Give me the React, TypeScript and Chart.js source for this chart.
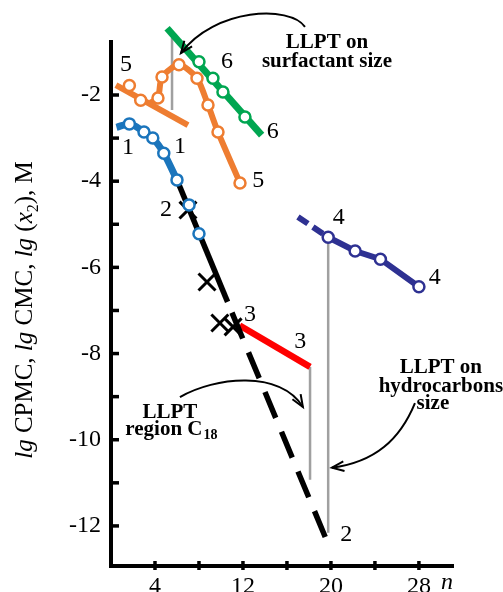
import { useEffect, useRef } from "react";
import { Chart, registerables } from "chart.js";

Chart.register(...registerables);

const SERIF = "'Liberation Serif', 'Times New Roman', serif";

// ---- data (n, lg value) ----
const blueLineN = [0.5, 1.67, 3.0, 3.8, 4.8, 6.0];
const blueLineY = [-2.75, -2.67, -2.86, -3.0, -3.35, -3.97];
const blueMarkN = [1.67, 3.0, 3.8, 4.8, 6.0, 7.1, 8.0];
const blueMarkY = [-2.67, -2.86, -3.0, -3.35, -3.97, -4.55, -5.22];

const blackSolidN = [6.0, 10.6];
const blackSolidY = [-3.97, -6.8];
const blackDashN = [11.0, 19.6];
const blackDashY = [-7.05, -12.33];
const crossN = [7.0, 8.73, 9.9, 11.1];
const crossY = [-4.67, -6.34, -7.29, -7.38];

const redN = [11.7, 18.1];
const redY = [-7.35, -8.31];

const navyDashN = [17.0, 19.75];
const navyDashY = [-4.83, -5.3];
const navyN = [19.75, 22.2, 24.5, 28.0];
const navyY = [-5.3, -5.62, -5.81, -6.45];

const orangeStraightN = [0.45, 7.0];
const orangeStraightY = [-1.77, -2.7];
const orangeStraightMarkN = [1.67, 2.7];
const orangeStraightMarkY = [-1.78, -2.12];
const orangeCurveN = [3.6, 4.27, 4.64, 6.18, 7.82, 8.82, 9.73, 11.73];
const orangeCurveY = [-2.18, -2.07, -1.58, -1.3, -1.61, -2.23, -2.86, -4.04];
const orangeMarkN = [4.27, 4.64, 6.18, 7.82, 8.82, 9.73, 11.73];
const orangeMarkY = [-2.07, -1.58, -1.3, -1.61, -2.23, -2.86, -4.04];

const greenN = [5.1, 13.7];
const greenY = [-0.45, -2.93];
const greenMarkN = [8.0, 9.27, 10.18, 12.18];
const greenMarkY = [-1.23, -1.61, -1.93, -2.51];

const gray1N = [5.55, 5.55];
const gray1Y = [-0.68, -2.35];
const gray2N = [18.1, 18.1];
const gray2Y = [-8.31, -10.93];
const gray3N = [19.75, 19.75];
const gray3Y = [-5.3, -12.16];

const X_LABELS = [4, 12, 20, 28];
const Y_LABELS = [-2, -4, -6, -8, -10, -12];

// curve number labels [n, lg, text]
const CURVE_LABELS: [number, number, string][] = [
  [1.36, -1.3, "5"],
  [10.55, -1.23, "6"],
  [14.7, -2.86, "6"],
  [13.4, -4.0, "5"],
  [1.55, -3.23, "1"],
  [6.27, -3.21, "1"],
  [5.0, -4.67, "2"],
  [12.65, -7.1, "3"],
  [17.2, -7.73, "3"],
  [20.7, -4.85, "4"],
  [29.45, -6.25, "4"],
  [21.4, -12.2, "2"],
];

const COLORS = {
  blue: "#1b75bc",
  orange: "#ee7d31",
  green: "#00a651",
  red: "#ff0000",
  navy: "#2e3192",
  black: "#000000",
  gray: "#a0a0a0",
};

function pts(xs: number[], ys: number[]) {
  return xs.map((x, i) => ({ x, y: ys[i] }));
}

function lineDs(xs: number[], ys: number[], color: string, width: number, extra: any = {}) {
  return {
    data: pts(xs, ys),
    showLine: true,
    borderColor: color,
    backgroundColor: color,
    borderWidth: width,
    pointRadius: 0,
    pointHoverRadius: 0,
    fill: false,
    clip: false,
    order: 5,
    ...extra,
  };
}

function markDs(xs: number[], ys: number[], color: string) {
  return {
    data: pts(xs, ys),
    showLine: false,
    pointStyle: "circle",
    pointRadius: 5.5,
    pointBorderWidth: 2.5,
    pointBackgroundColor: "#ffffff",
    pointBorderColor: color,
    borderColor: color,
    backgroundColor: "#ffffff",
    clip: false,
    order: 1,
  };
}

const overlay = {
  id: "overlay",
  afterDraw(chart: any) {
    const { ctx, chartArea } = chart;
    const xs = chart.scales.x;
    const ys = chart.scales.y;
    const px = (v: number) => xs.getPixelForValue(v);
    const py = (v: number) => ys.getPixelForValue(v);
    ctx.save();

    // tick marks
    ctx.strokeStyle = "#000";
    ctx.lineWidth = 3.5;
    xs.ticks.forEach((t: any) => {
      if (t.value <= 0) return;
      const X = px(t.value);
      ctx.beginPath();
      ctx.moveTo(X, chartArea.bottom - 5);
      ctx.lineTo(X, chartArea.bottom + 4);
      ctx.stroke();
    });
    ys.ticks.forEach((t: any) => {
      if (t.value > -1.5) return;
      const Y = py(t.value);
      ctx.beginPath();
      ctx.moveTo(chartArea.left - 1, Y);
      ctx.lineTo(chartArea.left + 8, Y);
      ctx.stroke();
    });

    // axis variable n
    ctx.fillStyle = "#000";
    ctx.font = `italic 24px ${SERIF}`;
    ctx.textAlign = "center";
    ctx.textBaseline = "top";
    ctx.fillText("n", px(30.55), chartArea.bottom + 5);

    // y title (rotated rich text)
    const segs = [
      { t: "lg", i: true },
      { t: " CPMC, " },
      { t: "lg", i: true },
      { t: " CMC, " },
      { t: "lg", i: true },
      { t: " (" },
      { t: "x", i: true },
      { t: "2", sub: true },
      { t: "), M" },
    ] as { t: string; i?: boolean; sub?: boolean }[];
    const fontOf = (s: any) =>
      s.sub ? `16px ${SERIF}` : `${s.i ? "italic " : ""}25px ${SERIF}`;
    let total = 0;
    segs.forEach((s) => {
      ctx.font = fontOf(s);
      total += ctx.measureText(s.t).width;
    });
    ctx.save();
    ctx.translate(32, (chartArea.top + chartArea.bottom) / 2 + 6);
    ctx.rotate(-Math.PI / 2);
    ctx.textAlign = "left";
    ctx.textBaseline = "alphabetic";
    let cx = -total / 2;
    segs.forEach((s) => {
      ctx.font = fontOf(s);
      ctx.fillText(s.t, cx, s.sub ? 6 : 0);
      cx += ctx.measureText(s.t).width;
    });
    ctx.restore();

    // curve number labels
    ctx.font = `24px ${SERIF}`;
    ctx.textAlign = "center";
    ctx.textBaseline = "middle";
    CURVE_LABELS.forEach(([n, v, t]) => ctx.fillText(t, px(n), py(v)));

    // bold annotations
    ctx.font = `bold 21px ${SERIF}`;
    const bold = (t: string, n: number, v: number) => ctx.fillText(t, px(n), py(v));
    bold("LLPT on", 19.64, -0.79);
    bold("surfactant size", 19.64, -1.23);
    bold("LLPT", 5.36, -9.36);
    bold("LLPT on", 30.0, -8.33);
    bold("hydrocarbons", 30.0, -8.77);
    bold("size", 29.27, -9.17);
    // region C18 with subscript
    {
      const main = "region C";
      const sub = "18";
      ctx.font = `bold 21px ${SERIF}`;
      const w1 = ctx.measureText(main).width;
      ctx.font = `bold 14px ${SERIF}`;
      const w2 = ctx.measureText(sub).width;
      const cxx = px(5.45);
      const cy = py(-9.77);
      ctx.textAlign = "left";
      ctx.font = `bold 21px ${SERIF}`;
      ctx.fillText(main, cxx - (w1 + w2) / 2, cy);
      ctx.font = `bold 14px ${SERIF}`;
      ctx.fillText(sub, cxx - (w1 + w2) / 2 + w1 + 1, cy + 6);
    }

    // arrows
    ctx.strokeStyle = "#000";
    ctx.lineWidth = 2;
    const arrow = (p: number[][]) => {
      const q = p.map(([n, v]) => [px(n), py(v)]);
      ctx.beginPath();
      ctx.moveTo(q[0][0], q[0][1]);
      ctx.bezierCurveTo(q[1][0], q[1][1], q[2][0], q[2][1], q[3][0], q[3][1]);
      ctx.stroke();
      const ang = Math.atan2(q[3][1] - q[2][1], q[3][0] - q[2][0]);
      const L = 13;
      const W = 0.38;
      ctx.beginPath();
      ctx.moveTo(q[3][0] - L * Math.cos(ang - W), q[3][1] - L * Math.sin(ang - W));
      ctx.lineTo(q[3][0], q[3][1]);
      ctx.lineTo(q[3][0] - L * Math.cos(ang + W), q[3][1] - L * Math.sin(ang + W));
      ctx.stroke();
    };
    arrow([
      [17.64, -0.42],
      [16.27, 0.09],
      [9.45, 0.02],
      [6.36, -1.03],
    ]);
    arrow([
      [6.27, -9.01],
      [9.45, -8.54],
      [15.36, -8.38],
      [17.45, -9.24],
    ]);
    arrow([
      [27.64, -9.15],
      [26.27, -10.0],
      [24.0, -10.52],
      [20.09, -10.65],
    ]);

    ctx.restore();
  },
};

export default function App() {
  const ref = useRef<HTMLCanvasElement>(null);
  useEffect(() => {
    const chart = new Chart(ref.current as HTMLCanvasElement, {
      type: "scatter",
      data: {
        datasets: [
          lineDs(gray1N, gray1Y, COLORS.gray, 2.5, { order: 10 }),
          lineDs(gray2N, gray2Y, COLORS.gray, 2.5, { order: 10 }),
          lineDs(gray3N, gray3Y, COLORS.gray, 2.5, { order: 10 }),
          lineDs(blackSolidN, blackSolidY, COLORS.black, 5.5),
          lineDs(blackDashN, blackDashY, COLORS.black, 5.5, { borderDash: [28, 15] }),
          lineDs(blueLineN, blueLineY, COLORS.blue, 7, { cubicInterpolationMode: "monotone", order: 4 }),
          lineDs(redN, redY, COLORS.red, 6.5),
          lineDs(navyDashN, navyDashY, COLORS.navy, 6, { borderDash: [12, 6] }),
          lineDs(navyN, navyY, COLORS.navy, 6),
          lineDs(orangeStraightN, orangeStraightY, COLORS.orange, 6),
          lineDs(orangeCurveN, orangeCurveY, COLORS.orange, 6, { tension: 0.25 }),
          lineDs(greenN, greenY, COLORS.green, 7),
          markDs(blueMarkN, blueMarkY, COLORS.blue),
          markDs(navyN, navyY, COLORS.navy),
          markDs(orangeStraightMarkN, orangeStraightMarkY, COLORS.orange),
          markDs(orangeMarkN, orangeMarkY, COLORS.orange),
          markDs(greenMarkN, greenMarkY, COLORS.green),
          {
            data: pts(crossN, crossY),
            showLine: false,
            pointStyle: "crossRot",
            pointRadius: 12,
            pointBorderWidth: 3,
            pointBorderColor: "#000",
            borderColor: "#000",
            clip: false,
            order: 2,
          },
        ] as any,
      },
      options: {
        responsive: false,
        animation: false,
        events: [],
        layout: { padding: { top: 42, right: 50, left: 0, bottom: 0 } },
        plugins: { legend: { display: false }, tooltip: { enabled: false } },
        scales: {
          x: {
            type: "linear",
            min: 0,
            max: 31.1,
            afterFit: (s: any) => {
              s.height = 26;
            },
            grid: { display: true, drawOnChartArea: false, drawTicks: false },
            border: { display: true, color: "#000", width: 4 },
            ticks: {
              stepSize: 4,
              includeBounds: false,
              autoSkip: false,
              maxRotation: 0,
              padding: 6,
              color: "#000",
              font: { family: SERIF, size: 24 },
              callback: (v: any) => (X_LABELS.includes(Number(v)) ? String(v) : ""),
            },
          },
          y: {
            type: "linear",
            min: -12.93,
            max: -0.77,
            afterFit: (s: any) => {
              s.width = 111;
            },
            grid: { display: true, drawOnChartArea: false, drawTicks: false },
            border: { display: true, color: "#000", width: 4 },
            ticks: {
              stepSize: 1,
              includeBounds: false,
              autoSkip: false,
              padding: 10,
              color: "#000",
              font: { family: SERIF, size: 24 },
              callback: (v: any) => (Y_LABELS.includes(Number(v)) ? String(v) : ""),
            },
          },
        },
      } as any,
      plugins: [overlay],
    });
    return () => chart.destroy();
  }, []);
  return (
    <div style={{ position: "absolute", left: 0, top: 0, width: 503, height: 592 }}>
      <canvas ref={ref} width={503} height={592} style={{ display: "block" }} />
    </div>
  );
}
